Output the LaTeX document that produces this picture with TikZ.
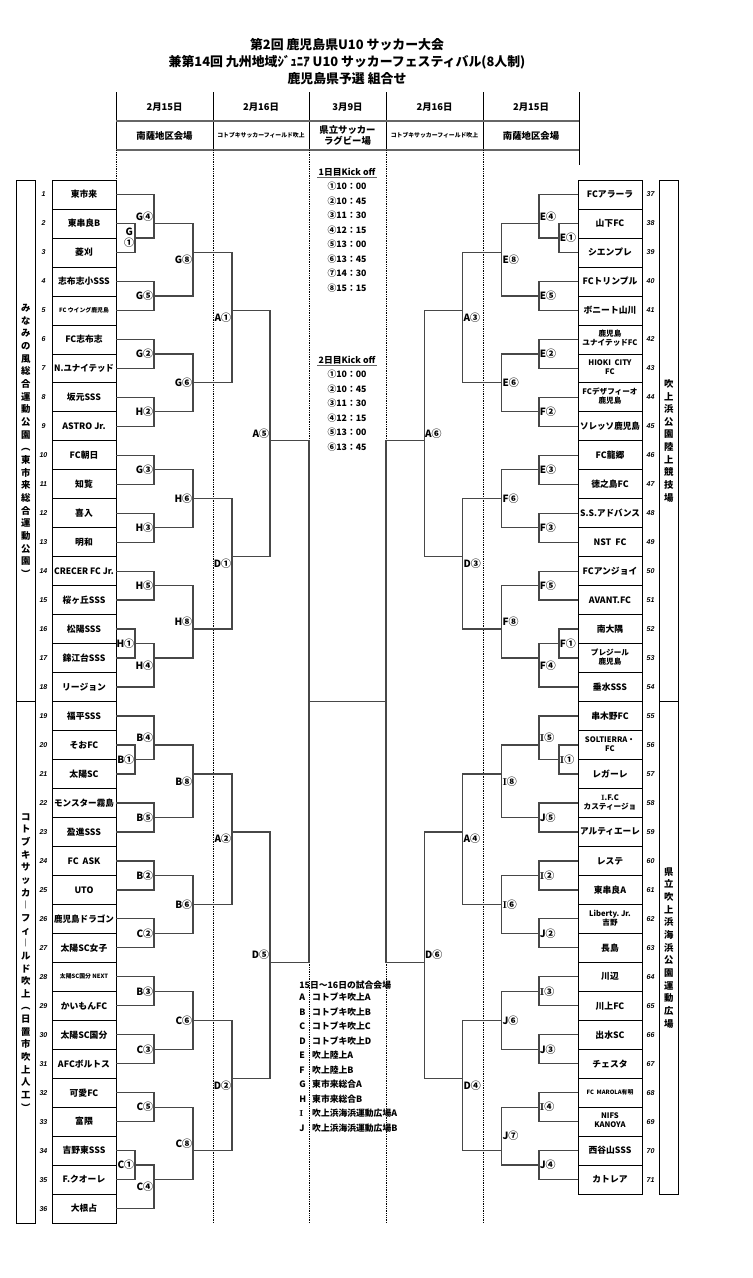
\documentclass[tikz,border=0pt]{standalone}
\usepackage{fontspec}
\usepackage{graphicx}
\usetikzlibrary{calc}
\newfontfamily\jp{Noto Sans CJK JP}
\newfontfamily\numf{Liberation Sans}
\newcommand\sI{{\rmfamily\bfseries I}}
\newsavebox\tmbox
\newcommand\fitw[2]{\sbox\tmbox{#2}\ifdim\wd\tmbox>#1\relax\resizebox{#1}{\height}{\usebox\tmbox}\else\usebox\tmbox\fi}
\newcommand\twol[2]{{\fontsize{6.5}{7.6}\selectfont\begin{tabular}{@{}c@{}}#1\\#2\end{tabular}}}
\newcommand\sm[1]{{\fontsize{5}{6}\selectfont #1}}
\tikzset{
  every picture/.style={line width=0.6pt},
  team/.style={draw=black, minimum width=1.92cm, minimum height=0.869cm, inner sep=0pt, font=\jp\bfseries\fontsize{7.5}{9}\selectfont},
  num/.style={inner sep=0pt, font=\numf\bfseries\itshape\fontsize{6}{7}\selectfont},
  venue/.style={draw=black, minimum width=0.57cm, inner sep=0pt, align=center, font=\jp\bfseries\fontsize{8}{10.8}\selectfont},
  lab/.style={inner sep=0.4pt, align=center, font=\jp\bfseries\fontsize{8.5}{9}\selectfont},
  br/.style={draw=black!72, line width=1.1pt},
  dot/.style={densely dotted, line width=0.5pt},
  hline/.style={draw=black!60, line width=1.6pt},
  ko/.style={inner sep=1pt, font=\jp\bfseries\fontsize{7.5}{9}\selectfont},
  hd/.style={inner sep=0pt, align=center, font=\jp\bfseries\fontsize{8}{10}\selectfont},
  ttl/.style={inner sep=0pt, font=\jp\bfseries\fontsize{11}{13}\selectfont},
}
\newcommand\lmatch[6]{%
  \coordinate (#1) at (#2,#3);
  \draw[br] (#5) -| (#1) |- (#6);
  \coordinate (#1m) at ($(#5)!.5!(#6)$);
  \node[lab, anchor=east] (#1l) at (#1m -| #1) {#4};}
\newcommand\rmatch[6]{%
  \coordinate (#1) at (#2,#3);
  \draw[br] (#5) -| (#1) |- (#6);
  \coordinate (#1m) at ($(#5)!.5!(#6)$);
  \node[lab, anchor=west] (#1l) at (#1m -| #1) {#4};}

\begin{document}
\begin{tikzpicture}[x=0.03cm, y=-0.03cm]
  \useasboundingbox (0,0) rectangle (753,1278);
  % title
  \node[ttl] (ttl1) at (347,45) {第2回 鹿児島県U10 サッカー大会};
  \node[ttl] (ttl2) at (347,62) {兼第14回 九州地域ｼﾞｭﾆｱ U10 サッカーフェスティバル(8人制)};
  \node[ttl] (ttl3) at (347,79) {鹿児島県予選 組合せ};
  % header table
  \foreach \x in {116,213,309,386,483} \draw (\x,92) -- (\x,150);
  \draw (579,92) -- (579,165);
  \draw[hline] (116,121) -- (579,121);
  \draw[hline] (116,150) -- (579,150);
  \foreach \x/\d/\v [count=\i] in {164.5/2月15日/南薩地区会場, 261/2月16日/{\sm{コトブキサッカーフィールド吹上}}, 347.5/3月9日/{県立サッカー\\ラグビー場}, 434.5/2月16日/{\sm{コトブキサッカーフィールド吹上}}, 531/2月15日/南薩地区会場} {
    \node[hd] (hd\i) at (\x,107) {\d};
    \node[hd] (hv\i) at (\x,135.5) {\v};
  }
  \draw[dot] (116,150) -- (116,180);
  \foreach \x in {213,309,386,483} \draw[dot] (\x,150) -- (\x,1223);
  % kick off times
  \node[ko] (k1) at (347,172) {1日目Kick off};
  \draw[draw=black!60, line width=1pt] (k1.south west) -- (k1.south east);
  \foreach \t [count=\i] in {①10：00,②10：45,③11：30,④12：15,⑤13：00,⑥13：45,⑦14：30,⑧15：15}
    \node[ko] (k1\i) at (347,{172+14.5*\i}) {\t};
  \node[ko] (k2) at (347,360) {2日目Kick off};
  \draw[draw=black!60, line width=1pt] (k2.south west) -- (k2.south east);
  \foreach \t [count=\i] in {①10：00,②10：45,③11：30,④12：15,⑤13：00,⑥13：45}
    \node[ko] (k2\i) at (347,{360+14.5*\i}) {\t};
  % venue list
  \node[ko, anchor=west, inner sep=0pt] (vh) at (299,985) {15日～16日の試合会場};
  \foreach \c/\t [count=\i] in {A/コトブキ吹上A, B/コトブキ吹上B, C/コトブキ吹上C, D/コトブキ吹上D, E/吹上陸上A, F/吹上陸上B, G/東市来総合A, H/東市来総合B, \sI/吹上浜海浜運動広場A, J/吹上浜海浜運動広場B}
    \node[ko, anchor=west, inner sep=0pt] (vv\i) at (299,{983+14.5*\i}) {\makebox[11pt][l]{\c}\t};

  \begin{scope}[yshift=-5.4cm, y=-0.43458cm]
    % venue boxes
    \node[venue, minimum height=15.645cm] (vl1) at (25.8,18) {み\\な\\み\\の\\風\\総\\合\\運\\動\\公\\園\\︵\\東\\市\\来\\総\\合\\運\\動\\公\\園\\︶};
    \node[venue, minimum height=15.645cm] (vl2) at (25.8,54) {コ\\ト\\ブ\\キ\\サ\\ッ\\カ\\︱\\フ\\ィ\\︱\\ル\\ド\\吹\\上\\︵\\日\\置\\市\\吹\\上\\人\\工\\︶};
    \node[venue, minimum height=15.645cm] (vr1) at (668.8,18) {吹\\上\\浜\\公\\園\\陸\\上\\競\\技\\場};
    \node[venue, minimum height=14.776cm] (vr2) at (668.8,53) {県\\立\\吹\\上\\浜\\海\\浜\\公\\園\\運\\動\\広\\場};
    % teams
    \foreach \n [count=\i] in {東市来,東串良B,菱刈,志布志小SSS,\sm{FC ウイング鹿児島},FC志布志,N.ユナイテッド,坂元SSS,ASTRO Jr.,FC朝日,知覧,喜入,明和,CRECER FC Jr.,桜ヶ丘SSS,松陽SSS,錦江台SSS,リージョン,福平SSS,そおFC,太陽SC,モンスター霧島,盈進SSS,FC\ \ ASK,UTO,鹿児島ドラゴン,太陽SC女子,\sm{太陽SC国分 NEXT},かいもんFC,太陽SC国分,AFCボルトス,可愛FC,富隈,吉野東SSS,F.クオーレ,大根占} {
      \node[team] (t\i) at (84,2*\i-1) {\fitw{51pt}{\n}};
      \node[num] (n\i) at (43.5,2*\i-1) {\i};
    }
    \foreach \n [count=\i] in {FCアラーラ,山下FC,シエンプレ,FCトリンプル,ボニート山川,\twol{鹿児島}{ユナイテッドFC},\twol{HIOKI\ \ CITY}{FC},\twol{FCデザフィーオ}{鹿児島},ソレッソ鹿児島,FC龍郷,徳之島FC,S.S.アドバンス,NST\ \ FC,FCアンジョイ,AVANT.FC,南大隅,\twol{プレジール}{鹿児島},垂水SSS,串木野FC,\twol{SOLTIERRA・}{FC},レガーレ,\twol{\sI.F.C}{カスティージョ},アルティエーレ,レステ,東串良A,\twol{Liberty.\ Jr.}{吉野},長島,川辺,川上FC,出水SC,チェスタ,\sm{FC\ \ MAROLA有明},\twol{NIFS}{KANOYA},西谷山SSS,カトレア} {
      \pgfmathtruncatemacro\k{\i+36}
      \node[team] (t\k) at (610,2*\i-1) {\fitw{51pt}{\n}};
      \node[num] (n\k) at (650.5,2*\i-1) {\k};
    }
    % left bracket
    \lmatch{g1}{135}{4}{G\\①}{t2.east}{t3.east}
    \lmatch{g4}{154}{3}{G④}{t1.east}{g1}
    \lmatch{g5}{154}{8}{G⑤}{t4.east}{t5.east}
    \lmatch{g8}{193}{5}{G⑧}{g4}{g5}
    \lmatch{g2}{154}{12}{G②}{t6.east}{t7.east}
    \lmatch{h2}{154}{16}{H②}{t8.east}{t9.east}
    \lmatch{g6}{193}{14}{G⑥}{g2}{h2}
    \lmatch{a1}{232}{9}{A①}{g8}{g6}
    \lmatch{g3}{154}{20}{G③}{t10.east}{t11.east}
    \lmatch{h3}{154}{24}{H③}{t12.east}{t13.east}
    \lmatch{h6}{193}{22}{H⑥}{g3}{h3}
    \lmatch{h5}{154}{28}{H⑤}{t14.east}{t15.east}
    \lmatch{h1}{135}{32}{H①}{t16.east}{t17.east}
    \lmatch{h4}{154}{33}{H④}{h1}{t18.east}
    \lmatch{h8}{193}{31}{H⑧}{h5}{h4}
    \lmatch{d1}{232}{26}{D①}{h6}{h8}
    \lmatch{a5}{270}{18}{A⑤}{a1}{d1}
    \lmatch{b1}{135}{40}{B①}{t20.east}{t21.east}
    \lmatch{b4}{154}{39}{B④}{t19.east}{b1}
    \lmatch{b5}{154}{44}{B⑤}{t22.east}{t23.east}
    \lmatch{b8}{193}{41}{B⑧}{b4}{b5}
    \lmatch{b2}{154}{48}{B②}{t24.east}{t25.east}
    \lmatch{c2}{154}{52}{C②}{t26.east}{t27.east}
    \lmatch{b6}{193}{50}{B⑥}{b2}{c2}
    \lmatch{a2}{232}{45}{A②}{b8}{b6}
    \lmatch{b3}{154}{56}{B③}{t28.east}{t29.east}
    \lmatch{c3}{154}{60}{C③}{t30.east}{t31.east}
    \lmatch{c6}{193}{58}{C⑥}{b3}{c3}
    \lmatch{c5}{154}{64}{C⑤}{t32.east}{t33.east}
    \lmatch{c1}{135}{68}{C①}{t34.east}{t35.east}
    \lmatch{c4}{154}{69}{C④}{c1}{t36.east}
    \lmatch{c8}{193}{67}{C⑧}{c5}{c4}
    \lmatch{d2}{232}{62}{D②}{c6}{c8}
    \lmatch{d5}{270}{54}{D⑤}{a2}{d2}
    % right bracket
    \rmatch{e1}{559}{4}{E①}{t38.west}{t39.west}
    \rmatch{e4}{539}{3}{E④}{t37.west}{e1}
    \rmatch{e5}{539}{8}{E⑤}{t40.west}{t41.west}
    \rmatch{e8}{501.7}{5}{E⑧}{e4}{e5}
    \rmatch{e2}{539}{12}{E②}{t42.west}{t43.west}
    \rmatch{f2}{539}{16}{F②}{t44.west}{t45.west}
    \rmatch{e6}{501.7}{14}{E⑥}{e2}{f2}
    \rmatch{a3}{462.7}{9}{A③}{e8}{e6}
    \rmatch{e3}{539}{20}{E③}{t46.west}{t47.west}
    \rmatch{f3}{539}{24}{F③}{t48.west}{t49.west}
    \rmatch{f6}{501.7}{22}{F⑥}{e3}{f3}
    \rmatch{f5}{539}{28}{F⑤}{t50.west}{t51.west}
    \rmatch{f1}{559}{32}{F①}{t52.west}{t53.west}
    \rmatch{f4}{539}{33}{F④}{f1}{t54.west}
    \rmatch{f8}{501.7}{31}{F⑧}{f5}{f4}
    \rmatch{d3}{462.7}{26}{D③}{f6}{f8}
    \rmatch{a6}{424.3}{18}{A⑥}{a3}{d3}
    \rmatch{i1}{559}{40}{\sI①}{t56.west}{t57.west}
    \rmatch{i5}{539}{39}{\sI⑤}{t55.west}{i1}
    \rmatch{j5}{539}{44}{J⑤}{t58.west}{t59.west}
    \rmatch{i8}{501.7}{41}{\sI⑧}{i5}{j5}
    \rmatch{i2}{539}{48}{\sI②}{t60.west}{t61.west}
    \rmatch{j2}{539}{52}{J②}{t62.west}{t63.west}
    \rmatch{i6}{501.7}{50}{\sI⑥}{i2}{j2}
    \rmatch{a4}{462.7}{45}{A④}{i8}{i6}
    \rmatch{i3}{539}{56}{\sI③}{t64.west}{t65.west}
    \rmatch{j3}{539}{60}{J③}{t66.west}{t67.west}
    \rmatch{j6}{501.7}{58}{J⑥}{i3}{j3}
    \rmatch{i4}{539}{64}{\sI④}{t68.west}{t69.west}
    \rmatch{j4}{539}{68}{J④}{t70.west}{t71.west}
    \rmatch{j7}{501.7}{67}{J⑦}{i4}{j4}
    \rmatch{d4}{462.7}{62}{D④}{j6}{j7}
    \rmatch{d6}{424.3}{54}{D⑥}{a4}{d4}
    % final
    \coordinate (fl) at (309,36);
    \coordinate (fr) at (386,36);
    \draw[br] (a5) -| (fl) |- (d5);
    \draw[br] (a6) -| (fr) |- (d6);
    \draw[br] (fl) -- (fr);
  \end{scope}
\end{tikzpicture}
\end{document}
